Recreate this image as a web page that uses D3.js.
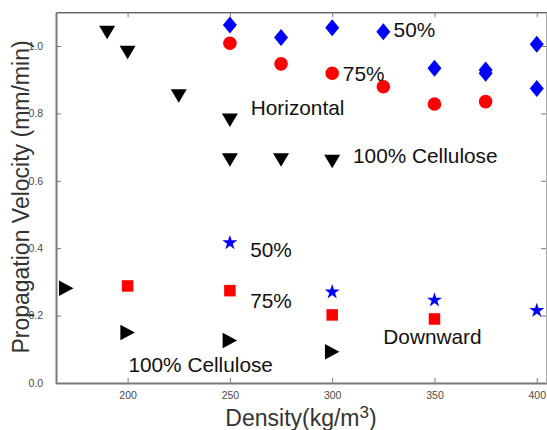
<!DOCTYPE html>
<html>
<head>
<meta charset="utf-8">
<script src="https://cdn.jsdelivr.net/npm/d3@7"></script>
<style>
  body { margin: 0; background: #fff; }
  text { font-family: "Liberation Sans", Arial, sans-serif; }
</style>
</head>
<body>
<div id="container"></div>
<script>
// ---- data ----
var xTicks = [200, 250, 300, 350, 400];
var yTicks = [0, 0.2, 0.4, 0.6, 0.8, 1.0];

// Horizontal spread
var hz100X = [190, 200, 225, 250, 250, 275, 300];
var hz100Y = [1.040, 0.981, 0.852, 0.780, 0.662, 0.662, 0.657];
var hz75X = [250, 275, 300, 325, 350, 375];
var hz75Y = [1.008, 0.947, 0.919, 0.879, 0.828, 0.835];
var hz50X = [250, 275, 300, 325, 350, 375, 375, 400, 400];
var hz50Y = [1.062, 1.025, 1.054, 1.042, 0.934, 0.929, 0.919, 1.005, 0.874];

// Downward spread
var dn100X = [170, 200, 250, 300];
var dn100Y = [0.281, 0.150, 0.126, 0.093];
var dn75X = [200, 250, 300, 350];
var dn75Y = [0.288, 0.274, 0.202, 0.190];
var dn50X = [250, 300, 350, 400];
var dn50Y = [0.416, 0.270, 0.246, 0.215];

// annotations (data coords, baseline-left)
var noteText = ["50%", "75%", "Horizontal", "100% Cellulose", "50%", "75%", "Downward", "100% Cellulose"];
var noteX = [330, 305.2, 260.2, 310.2, 259.9, 259.9, 325, 200.4];
var noteY = [1.026, 0.896, 0.795, 0.653, 0.375, 0.223, 0.116, 0.034];

var width = 547, height = 430;

var svg = d3.select("#container").append("svg")
    .attr("width", width)
    .attr("height", height);

var x = d3.scaleLinear().domain([165, 405]).range([56, 547]);
var y = d3.scaleLinear().domain([0, 1.1]).range([383, 12.3]);

// marker shapes (centered on 0,0)
function downTri(w, h) { return "M" + (-w/2) + "," + (-h/2) + "L" + (w/2) + "," + (-h/2) + "L0," + (h/2) + "Z"; }
function rightTri(w, h) { return "M" + (-w/2) + "," + (-h/2) + "L" + (w/2) + ",0L" + (-w/2) + "," + (h/2) + "Z"; }
function diamond(w, h) { return "M0," + (-h/2) + "L" + (w/2) + ",0L0," + (h/2) + "L" + (-w/2) + ",0Z"; }
var starPath = d3.symbol().type(d3.symbolStar).size(70)();
var circlePath = d3.symbol().type(d3.symbolCircle).size(Math.PI * 6.8 * 6.8)();
var squarePath = d3.symbol().type(d3.symbolSquare).size(11.5 * 11.5)();

function drawSeries(xs, ys, shape, color) {
    svg.append("g")
        .selectAll("path")
        .data(d3.zip(xs, ys))
        .enter().append("path")
        .attr("d", shape)
        .attr("transform", function(d) { return "translate(" + x(d[0]) + "," + y(d[1]) + ")"; })
        .style("fill", color);
}

drawSeries(hz100X, hz100Y, downTri(16, 13.5), "#000");
drawSeries(hz75X, hz75Y, circlePath, "#ff0000");
drawSeries(hz50X, hz50Y, diamond(14, 17), "#0000ff");
drawSeries(dn100X, dn100Y, rightTri(14.5, 15.5), "#000");
drawSeries(dn75X, dn75Y, squarePath, "#ff0000");
drawSeries(dn50X, dn50Y, starPath, "#0000ff");

// axes
var axisColor = "#7a7a7a";

var gx = svg.append("g").attr("transform", "translate(0,383)")
    .call(d3.axisBottom(x).tickValues(xTicks).tickSizeInner(-5).tickSizeOuter(0).tickPadding(9));
var gy = svg.append("g").attr("transform", "translate(56,0)")
    .call(d3.axisLeft(y).tickValues(yTicks).tickFormat(d3.format(".1f")).tickSizeInner(-5).tickSizeOuter(0).tickPadding(13));
var gt = svg.append("g").attr("transform", "translate(0,12.3)")
    .call(d3.axisTop(x).tickValues(xTicks).tickSizeInner(-5).tickSizeOuter(0).tickFormat(""));
var gr = svg.append("g").attr("transform", "translate(546,0)")
    .call(d3.axisRight(y).tickValues(yTicks).tickSizeInner(-5).tickSizeOuter(0).tickFormat(""));

[gx, gy, gt, gr].forEach(function(g) {
    g.selectAll("line").style("stroke", axisColor);
    g.selectAll("text").style("fill", "#4a4a4a").style("font-size", "10.5px")
        .style("font-family", "'Liberation Sans', Arial, sans-serif");
});
gx.select(".domain").style("stroke", axisColor).style("stroke-width", 2);
gy.select(".domain").style("stroke", axisColor).style("stroke-width", 2);
gt.select(".domain").style("stroke", "#222").style("stroke-width", 1);
gr.select(".domain").style("stroke", "#aaa").style("stroke-width", 1);

// annotations
svg.append("g")
    .selectAll("text")
    .data(noteText)
    .enter().append("text")
    .attr("x", function(d, i) { return x(noteX[i]); })
    .attr("y", function(d, i) { return y(noteY[i]); })
    .style("font-size", "20.8px")
    .style("fill", "#111")
    .text(function(d) { return d; });

// axis titles
var xt = svg.append("text")
    .attr("x", 301)
    .attr("y", 426)
    .attr("text-anchor", "middle")
    .style("font-size", "23px")
    .style("fill", "#333");
xt.append("tspan").text("Density(kg/m");
xt.append("tspan").attr("dy", -8).style("font-size", "17px").text("3");
xt.append("tspan").attr("dy", 8).text(")");

svg.append("text")
    .attr("transform", "translate(29,197) rotate(-90)")
    .attr("text-anchor", "middle")
    .style("font-size", "23px")
    .style("fill", "#333")
    .text("Propagation Velocity (mm/min)");
</script>
</body>
</html>
